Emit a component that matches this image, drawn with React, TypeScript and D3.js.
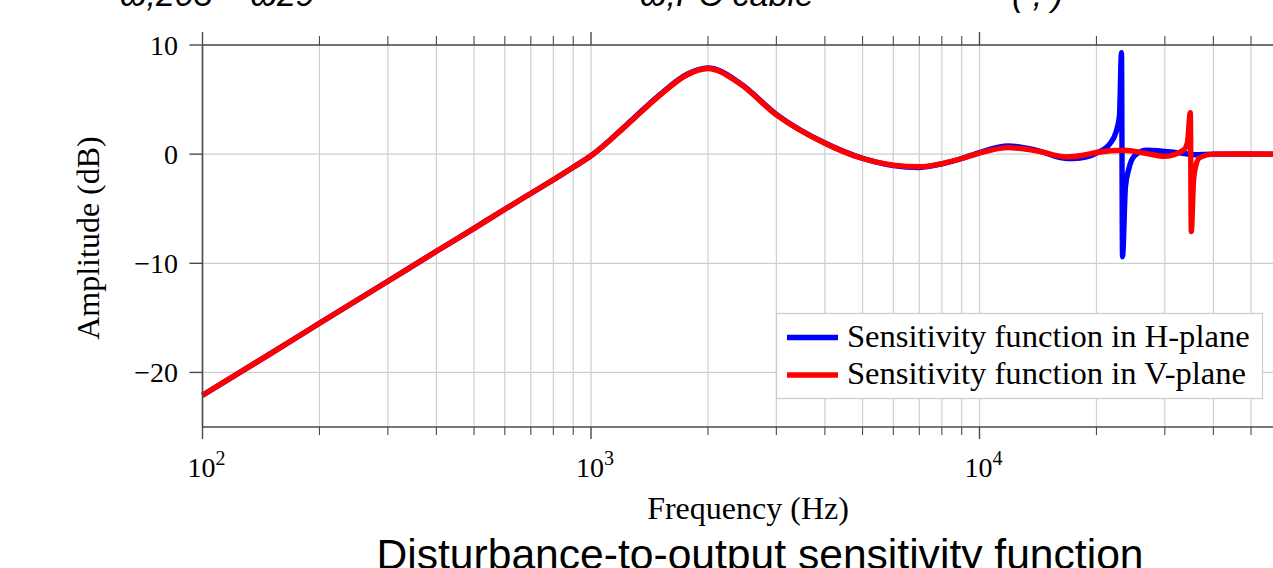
import React from "react";
import * as d3 from "d3";

// ---- data ----
const redFreq = [100, 150, 200, 300, 400, 500, 600, 700, 800, 900, 1000, 1236, 1505, 1763, 2000, 2418, 3000, 4000, 5000, 6000, 7000, 8000, 9000, 10000, 11860, 14030, 16770, 18500, 20000, 23500, 27000, 30000, 33600, 34310, 34890, 35090, 35550, 36080, 36950, 39900, 45000, 60000, 100000];
const redDb = [-22.1, -18.25, -15.5, -11.65, -8.9, -6.8, -5.05, -3.6, -2.35, -1.2, -0.15, 2.66, 5.41, 7.25, 7.85, 6.45, 3.6, 1.0, -0.4, -1.0, -1.16, -0.86, -0.4, 0.1, 0.6, 0.3, -0.25, -0.1, 0.15, 0.35, 0.05, -0.2, 0.4, 1.1, 3.8, -7.1, -2.5, -1.0, -0.3, 0.0, 0.02, 0.0, 0.0];

const blueFreq = [100, 150, 200, 300, 400, 500, 600, 700, 800, 900, 1000, 1236, 1505, 1763, 2000, 2418, 3000, 4000, 5000, 6000, 7000, 8000, 9000, 10000, 11860, 14030, 16770, 18150, 20000, 21680, 22450, 22920, 23200, 23340, 23750, 24250, 25130, 26940, 30000, 33000, 36000, 40000, 60000, 100000];
const blueDb = [-22.1, -18.25, -15.5, -11.65, -8.9, -6.8, -5.05, -3.6, -2.35, -1.2, -0.15, 2.7, 5.45, 7.3, 7.9, 6.5, 3.65, 1.02, -0.38, -1.05, -1.22, -0.9, -0.4, 0.15, 0.75, 0.35, -0.4, -0.35, 0.1, 0.98, 2.0, 3.5, 9.3, -9.4, -3.0, -1.3, -0.1, 0.35, 0.25, 0.1, -0.05, 0.0, 0.0, 0.0];

const yTicks = [-20, -10, 0, 10];
const yTickLabels = ["\u221220", "\u221210", "0", "10"];
const xMajor = [100, 1000, 10000, 100000];
const xMajorExp = ["2", "3", "4", "5"];

const legendLabels = ["Sensitivity function in H-plane", "Sensitivity function in V-plane"];
const legendColors = ["#0000ff", "#ff0000"];

const xLabel = "Frequency (Hz)";
const yLabel = "Amplitude (dB)";
const caption = "Disturbance-to-output sensitivity function";
// partly cut-off line above the chart (only glyph bottoms visible)
const topClippedParts = ["ω,203 – ω29", "–", "ω,PC cable", "( ,  )"];
const topClippedX = [120, 500, 640, 1012];

export default function App() {
  const W = 1273, H = 568;
  const left = 202.5, top = 45, bottom = 427;
  const x = d3.scaleLog().domain([100, 100000]).range([left, 1368]);
  const y = d3.scaleLinear().domain([-25, 10]).range([bottom, top]);

  const minor: number[] = [];
  [100, 1000, 10000].forEach((d) => {
    for (let k = 2; k <= 9; k++) minor.push(d * k);
  });

  const line = d3
    .line<[number, number]>()
    .x((d) => x(d[0]))
    .y((d) => y(d[1]))
    .curve(d3.curveMonotoneX);
  const redPts = redFreq.map((f, i) => [f, redDb[i]] as [number, number]);
  const bluePts = blueFreq.map((f, i) => [f, blueDb[i]] as [number, number]);

  const serif = "'Liberation Serif', 'Times New Roman', serif";
  const axisColor = "#4a4a4a";
  const gridColor = "#cfcfcf";

  return (
    <svg
      width={W}
      height={H}
      style={{ position: "absolute", left: 0, top: 0, background: "#fff", overflow: "hidden" }}
    >
      <rect x={0} y={0} width={W} height={H} fill="#fff" />
      {topClippedParts.map((t, i) => (
        <text key={"tc" + i} x={topClippedX[i]} y={6} fontFamily="'Liberation Sans', Arial, sans-serif" fontStyle="italic" fontSize={34} fill="#000">
          {t}
        </text>
      ))}

      {/* grid */}
      {[...minor, ...xMajor].map((f) => (
        <line key={"gx" + f} x1={x(f)} x2={x(f)} y1={top} y2={bottom} stroke={gridColor} strokeWidth={1.2} />
      ))}
      {yTicks.map((v) => (
        <line key={"gy" + v} x1={left} x2={W} y1={y(v)} y2={y(v)} stroke={gridColor} strokeWidth={1.2} />
      ))}

      {/* curves */}
      <path d={line(bluePts) || ""} fill="none" stroke="#0000ff" strokeWidth={5.4} />
      <path d={line(redPts) || ""} fill="none" stroke="#ff0000" strokeWidth={5.4} />

      {/* frame */}
      <line x1={left} x2={W} y1={top} y2={top} stroke={axisColor} strokeWidth={1.6} />
      <line x1={left} x2={W} y1={bottom} y2={bottom} stroke={axisColor} strokeWidth={1.6} />
      <line x1={left} x2={left} y1={top} y2={bottom} stroke={axisColor} strokeWidth={1.6} />

      {/* x ticks */}
      {xMajor.map((f) => (
        <g key={"mt" + f}>
          <line x1={x(f)} x2={x(f)} y1={top} y2={top - 13} stroke={axisColor} strokeWidth={1.4} />
          <line x1={x(f)} x2={x(f)} y1={bottom} y2={bottom + 12} stroke={axisColor} strokeWidth={1.4} />
        </g>
      ))}
      {minor.map((f) => (
        <g key={"mn" + f}>
          <line x1={x(f)} x2={x(f)} y1={top} y2={top - 9} stroke={axisColor} strokeWidth={1.1} />
          <line x1={x(f)} x2={x(f)} y1={bottom} y2={bottom + 8} stroke={axisColor} strokeWidth={1.1} />
        </g>
      ))}
      {xMajor
        .map((f, i) => ({ f, e: xMajorExp[i] }))
        .filter((d) => x(d.f) < W - 30)
        .map((d) => (
          <text key={"xl" + d.f} x={x(d.f) + 4} y={477} textAnchor="middle" fontFamily={serif} fontSize={28} fill="#000">
            10
            <tspan dy={-12} fontSize={20}>
              {d.e}
            </tspan>
          </text>
        ))}

      {/* y ticks */}
      {yTicks.map((v, i) => (
        <g key={"yt" + v}>
          <line x1={left} x2={left - 13} y1={y(v)} y2={y(v)} stroke={axisColor} strokeWidth={1.4} />
          <text x={178} y={y(v) + 10} textAnchor="end" fontFamily={serif} fontSize={28} fill="#000">
            {yTickLabels[i]}
          </text>
        </g>
      ))}

      {/* axis labels */}
      <text x={748} y={519} textAnchor="middle" fontFamily={serif} fontSize={32} fill="#000">
        {xLabel}
      </text>
      <text
        transform="translate(99,238) rotate(-90)"
        textAnchor="middle"
        fontFamily={serif}
        fontSize={32}
        fill="#000"
      >
        {yLabel}
      </text>

      {/* legend */}
      <rect x={776.5} y={313.5} width={486} height={85} fill="#fff" stroke="#cccccc" strokeWidth={1.2} />
      {legendLabels.map((lab, i) => (
        <g key={lab}>
          <line x1={787} x2={838} y1={337.5 + i * 37.5} y2={337.5 + i * 37.5} stroke={legendColors[i]} strokeWidth={5.4} />
          <text x={847} y={346.5 + i * 37.5} fontFamily={serif} fontSize={32.6} fill="#000">
            {lab}
          </text>
        </g>
      ))}

      {/* caption */}
      <text x={760} y={569} textAnchor="middle" fontFamily="'Liberation Sans', Arial, sans-serif" fontSize={42.6} fill="#000">
        {caption}
      </text>
    </svg>
  );
}
